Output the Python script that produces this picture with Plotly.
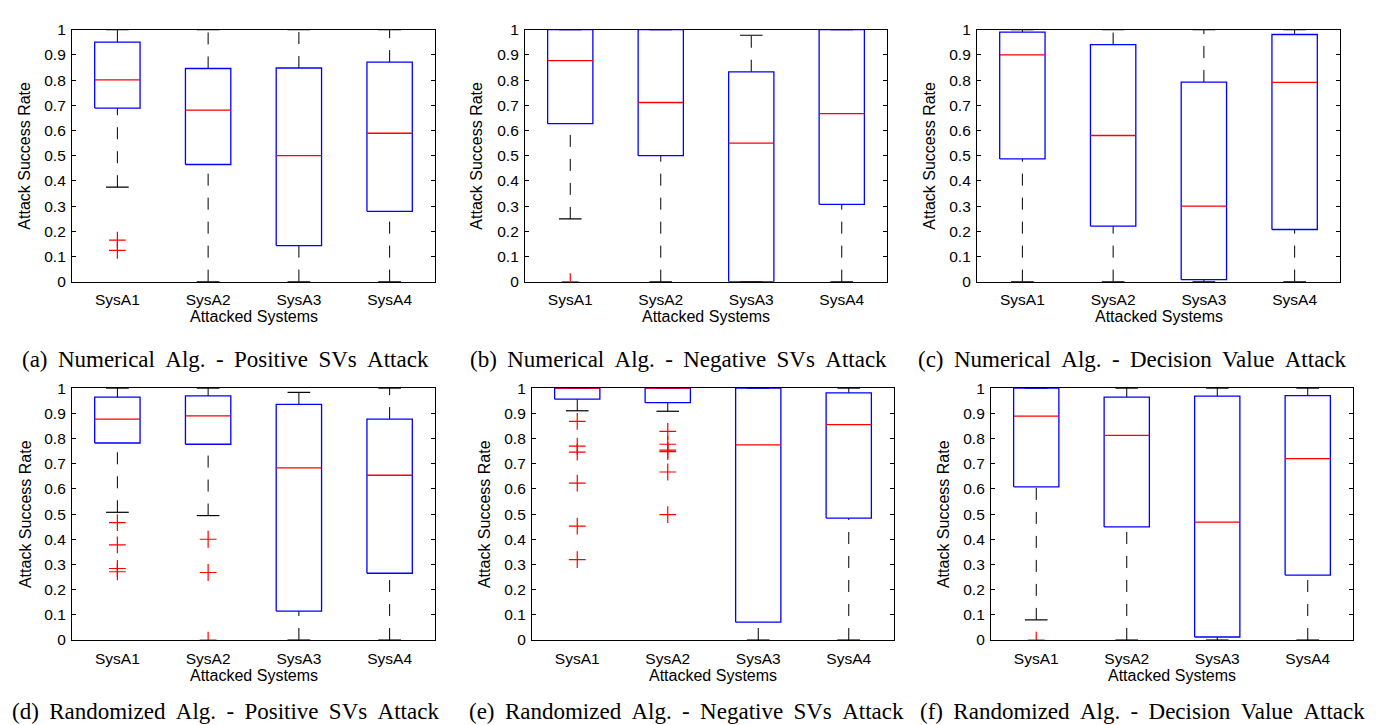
import plotly.graph_objects as go

W, H = 1378, 725

systems = ["SysA1", "SysA2", "SysA3", "SysA4"]
captions = [
    "(a) Numerical Alg. - Positive SVs Attack",
    "(b) Numerical Alg. - Negative SVs Attack",
    "(c) Numerical Alg. - Decision Value Attack",
    "(d) Randomized Alg. - Positive SVs Attack",
    "(e) Randomized Alg. - Negative SVs Attack",
    "(f) Randomized Alg. - Decision Value Attack",
]
y_ticks = [0, 0.1, 0.2, 0.3, 0.4, 0.5, 0.6, 0.7, 0.8, 0.9, 1]
y_ticktext = ["0", "0.1", "0.2", "0.3", "0.4", "0.5", "0.6", "0.7", "0.8", "0.9", "1"]

# (a)
q1_a = [0.689, 0.465, 0.143, 0.279]
med_a = [0.801, 0.681, 0.500, 0.589]
q3_a = [0.951, 0.846, 0.848, 0.871]
lo_a = [0.375, 0.0, 0.0, 0.0]
hi_a = [1.0, 1.0, 1.0, 1.0]
out_a = [[0.165, 0.124], [], [], []]
# (b)
q1_b = [0.627, 0.500, 0.0, 0.307]
med_b = [0.877, 0.711, 0.550, 0.667]
q3_b = [1.0, 1.0, 0.833, 1.0]
lo_b = [0.249, 0.0, 0.0, 0.0]
hi_b = [1.0, 1.0, 0.978, 1.0]
out_b = [[0.0], [], [], []]
# (c)
q1_c = [0.487, 0.220, 0.008, 0.207]
med_c = [0.900, 0.580, 0.300, 0.791]
q3_c = [0.990, 0.941, 0.792, 0.981]
lo_c = [0.0, 0.0, 0.0, 0.0]
hi_c = [1.0, 1.0, 1.0, 1.0]
out_c = [[], [], [], []]
# (d)
q1_d = [0.782, 0.777, 0.115, 0.265]
med_d = [0.877, 0.890, 0.683, 0.654]
q3_d = [0.964, 0.969, 0.935, 0.877]
lo_d = [0.507, 0.494, 0.0, 0.0]
hi_d = [1.0, 1.0, 0.983, 1.0]
out_d = [[0.466, 0.378, 0.284, 0.271], [0.400, 0.268, 0.0], [], []]
# (e)
q1_e = [0.956, 0.942, 0.071, 0.484]
med_e = [1.0, 1.0, 0.775, 0.855]
q3_e = [1.0, 1.0, 1.0, 0.981]
lo_e = [0.910, 0.908, 0.0, 0.0]
hi_e = [1.0, 1.0, 1.0, 1.0]
out_e = [[0.868, 0.770, 0.746, 0.623, 0.452, 0.319],
         [0.828, 0.777, 0.754, 0.748, 0.667, 0.498], [], []]
# (f)
q1_f = [0.608, 0.449, 0.012, 0.258]
med_f = [0.889, 0.812, 0.468, 0.720]
q3_f = [1.0, 0.964, 0.968, 0.970]
lo_f = [0.080, 0.0, 0.0, 0.0]
hi_f = [1.0, 1.0, 1.0, 1.0]
out_f = [[0.0], [], [], []]

panels = [
    (q1_a, med_a, q3_a, lo_a, hi_a, out_a),
    (q1_b, med_b, q3_b, lo_b, hi_b, out_b),
    (q1_c, med_c, q3_c, lo_c, hi_c, out_c),
    (q1_d, med_d, q3_d, lo_d, hi_d, out_d),
    (q1_e, med_e, q3_e, lo_e, hi_e, out_e),
    (q1_f, med_f, q3_f, lo_f, hi_f, out_f),
]

# layout geometry (pixels)
plot_x = [(64, 427), (517, 879), (969, 1332), (64, 427), (524, 886), (983, 1345)]
plot_y = [(13, 271), (13, 271), (13, 271), (380, 638), (380, 638), (380, 638)]
ytitle_x = [17, 469, 922, 17, 476, 935]
cap_pos = [(217, 351), (670, 351), (1124, 351), (217, 711), (678, 711), (1134, 711)]

BOX_HW = 0.25
CAP_HW = 0.125
SANS = "Liberation Sans, Arial, sans-serif"
SERIF = "Liberation Serif, Times New Roman, serif"

fig = go.Figure()
annotations = []

for k, (q1, med, q3, lo, hi, outs) in enumerate(panels):
    xa = "x" if k == 0 else f"x{k+1}"
    ya = "y" if k == 0 else f"y{k+1}"
    wx, wy, cx, cy, bx, by, mx, my, ox, oy = [], [], [], [], [], [], [], [], [], []
    for i in range(len(systems)):
        x = i + 1
        # whiskers (drawn from lower to upper value)
        wx += [x, x, None, x, x, None]
        wy += [lo[i], q1[i], None, q3[i], hi[i], None]
        # caps
        cx += [x - CAP_HW, x + CAP_HW, None, x - CAP_HW, x + CAP_HW, None]
        cy += [lo[i], lo[i], None, hi[i], hi[i], None]
        # box
        bx += [x - BOX_HW, x + BOX_HW, x + BOX_HW, x - BOX_HW, x - BOX_HW, None]
        by += [q1[i], q1[i], q3[i], q3[i], q1[i], None]
        # median
        mx += [x - BOX_HW, x + BOX_HW, None]
        my += [med[i], med[i], None]
        for v in outs[i]:
            ox.append(x)
            oy.append(v)
    fig.add_trace(go.Scatter(x=wx, y=wy, mode="lines", xaxis=xa, yaxis=ya,
                             line=dict(color="black", width=1, dash="12px,12px"),
                             hoverinfo="skip", showlegend=False))
    fig.add_trace(go.Scatter(x=cx, y=cy, mode="lines", xaxis=xa, yaxis=ya,
                             line=dict(color="black", width=1.2),
                             hoverinfo="skip", showlegend=False))
    fig.add_trace(go.Scatter(x=bx, y=by, mode="lines", xaxis=xa, yaxis=ya,
                             line=dict(color="#0000ff", width=1.3),
                             hoverinfo="skip", showlegend=False))
    fig.add_trace(go.Scatter(x=mx, y=my, mode="lines", xaxis=xa, yaxis=ya,
                             line=dict(color="#ff0000", width=1.3),
                             hoverinfo="skip", showlegend=False))
    if ox:
        fig.add_trace(go.Scatter(x=ox, y=oy, mode="markers", xaxis=xa, yaxis=ya,
                                 marker=dict(symbol="cross-thin", size=12,
                                             line=dict(color="#ff0000", width=1.2)),
                                 hoverinfo="skip", showlegend=False))

    x0, x1 = plot_x[k]
    y0, y1 = plot_y[k]
    xkey = "xaxis" if k == 0 else f"xaxis{k+1}"
    ykey = "yaxis" if k == 0 else f"yaxis{k+1}"
    fig.update_layout(**{
        xkey: dict(domain=[x0 / W, x1 / W], anchor=ya, range=[0.5, 4.5],
                   tickvals=[1, 2, 3, 4], ticktext=systems, ticks="",
                   ticklabelstandoff=4,
                   showline=True, mirror=True, linecolor="black", linewidth=1.2,
                   showgrid=False, zeroline=False, layer="below traces",
                   tickfont=dict(family=SANS, size=15.5, color="black")),
        ykey: dict(domain=[1 - y1 / H, 1 - y0 / H], anchor=xa, range=[0, 1],
                   tickvals=y_ticks, ticktext=y_ticktext, ticks="inside",
                   ticklen=4, tickcolor="black", tickwidth=1, ticklabelstandoff=2,
                   showline=True, mirror="ticks", linecolor="black", linewidth=1.2,
                   showgrid=False, zeroline=False, layer="below traces",
                   tickfont=dict(family=SANS, size=15.5, color="black")),
    })
    # axis titles
    annotations.append(dict(text="Attacked Systems", xref="paper", yref="paper",
                            x=(x0 + x1) / 2 / W, y=1 - (y1 + 36) / H,
                            xanchor="center", yanchor="middle", showarrow=False,
                            font=dict(family=SANS, size=16, color="black")))
    annotations.append(dict(text="Attack Success Rate", xref="paper", yref="paper",
                            x=ytitle_x[k] / W, y=1 - (y0 + y1) / 2 / H, textangle=-90,
                            xanchor="center", yanchor="middle", showarrow=False,
                            font=dict(family=SANS, size=16, color="black")))
    annotations.append(dict(text=captions[k].replace(" ", " \u2009"), xref="paper", yref="paper",
                            x=cap_pos[k][0] / W, y=1 - cap_pos[k][1] / H,
                            xanchor="center", yanchor="middle", showarrow=False,
                            font=dict(family=SERIF, size=23, color="black")))

fig.update_layout(width=W, height=H, margin=dict(l=0, r=0, t=0, b=0),
                  paper_bgcolor="white", plot_bgcolor="white",
                  annotations=annotations, showlegend=False)

fig.write_html("out.html")
